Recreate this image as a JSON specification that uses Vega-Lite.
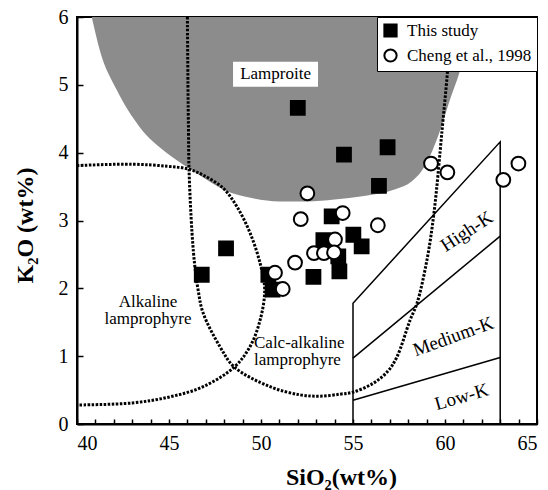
{
  "$schema": "https://vega.github.io/schema/vega-lite/v6.json",
  "width": 460,
  "height": 407,
  "autosize": "none",
  "padding": {"left": 77, "top": 17, "right": 11, "bottom": 66},
  "background": "white",
  "config": {
    "font": "Liberation Serif",
    "view": {"stroke": "black", "strokeWidth": 2},
    "axis": {
      "grid": false,
      "domainColor": "black",
      "domainWidth": 2,
      "tickColor": "black",
      "tickWidth": 1.5,
      "labelColor": "black",
      "labelFont": "Liberation Serif",
      "labelFontSize": 20,
      "titleFont": "Liberation Serif",
      "titleFontSize": 24,
      "titleFontWeight": "bold",
      "titleColor": "black"
    },
    "legend": {
      "fillColor": "white",
      "strokeColor": "black",
      "padding": 5,
      "rowPadding": 4,
      "labelFont": "Liberation Serif",
      "labelFontSize": 17,
      "labelColor": "black",
      "labelOffset": 8,
      "symbolSize": 150,
      "symbolStrokeWidth": 2
    }
  },
  "encoding": {
    "x": {
      "field": "SiO2",
      "type": "quantitative",
      "scale": {"domain": [40, 65], "nice": false, "zero": false},
      "axis": {
        "title": "SiO₂(wt%)",
        "values": [40, 41, 42, 43, 44, 45, 46, 47, 48, 49, 50, 51, 52, 53, 54, 55, 56, 57, 58, 59, 60, 61, 62, 63, 64, 65],
        "labelExpr": "datum.value % 5 === 0 ? datum.label : ''",
        "tickSize": -5,
        "labelPadding": 14,
        "titleX": 264,
        "titleY": 60,
        "titleBaseline": "alphabetic"
      }
    },
    "y": {
      "field": "K2O",
      "type": "quantitative",
      "scale": {"domain": [0, 6], "nice": false, "zero": false},
      "axis": {
        "title": "K₂O (wt%)",
        "values": [0, 1, 2, 3, 4, 5, 6],
        "tickSize": -6,
        "labelPadding": 15,
        "titleX": -52,
        "titleY": 208,
        "titleAngle": -90,
        "titleBaseline": "middle",
        "titleAlign": "center"
      }
    }
  },
  "layer": [
    {
      "description": "Lamproite field, shaded from its lower boundary up to the top of the plot",
      "data": {
        "values": [
          {"SiO2": 40.8, "K2O": 6.0},
          {"SiO2": 41.25, "K2O": 5.5},
          {"SiO2": 42.17, "K2O": 4.92},
          {"SiO2": 43.4, "K2O": 4.38},
          {"SiO2": 44.86, "K2O": 4.0},
          {"SiO2": 46.03, "K2O": 3.78},
          {"SiO2": 47.05, "K2O": 3.6},
          {"SiO2": 48.15, "K2O": 3.43},
          {"SiO2": 49.5, "K2O": 3.33},
          {"SiO2": 51.0, "K2O": 3.28},
          {"SiO2": 52.5, "K2O": 3.28},
          {"SiO2": 54.0, "K2O": 3.31},
          {"SiO2": 55.6, "K2O": 3.36},
          {"SiO2": 57.3, "K2O": 3.46},
          {"SiO2": 58.2, "K2O": 3.58},
          {"SiO2": 58.7, "K2O": 3.72},
          {"SiO2": 59.1, "K2O": 3.9},
          {"SiO2": 59.55, "K2O": 4.19},
          {"SiO2": 60.27, "K2O": 4.78},
          {"SiO2": 60.9, "K2O": 5.29},
          {"SiO2": 61.5, "K2O": 6.0}
        ]
      },
      "mark": {"type": "area", "fill": "#8c8c8c", "interpolate": "monotone"},
      "encoding": {"y2": {"datum": 6}}
    },
    {
      "description": "White box behind the Lamproite label",
      "data": {"values": [{"SiO2": 48.48, "SiO2_end": 53.1, "K2O": 4.97, "K2O_end": 5.34}]},
      "mark": {"type": "rect", "fill": "white"},
      "encoding": {
        "x2": {"field": "SiO2_end"},
        "y2": {"field": "K2O_end"}
      }
    },
    {
      "description": "Alkaline and calc-alkaline lamprophyre field boundaries",
      "data": {
        "values": [
          {"curve": "alkaline", "ord": 1, "SiO2": 40.0, "K2O": 3.81},
          {"curve": "alkaline", "ord": 2, "SiO2": 43.0, "K2O": 3.83},
          {"curve": "alkaline", "ord": 3, "SiO2": 44.9, "K2O": 3.8},
          {"curve": "alkaline", "ord": 4, "SiO2": 46.03, "K2O": 3.76},
          {"curve": "alkaline", "ord": 5, "SiO2": 46.85, "K2O": 3.67},
          {"curve": "alkaline", "ord": 6, "SiO2": 47.93, "K2O": 3.48},
          {"curve": "alkaline", "ord": 7, "SiO2": 48.7, "K2O": 3.2},
          {"curve": "alkaline", "ord": 8, "SiO2": 49.4, "K2O": 2.82},
          {"curve": "alkaline", "ord": 9, "SiO2": 49.95, "K2O": 2.37},
          {"curve": "alkaline", "ord": 10, "SiO2": 50.2, "K2O": 1.98},
          {"curve": "alkaline", "ord": 11, "SiO2": 49.95, "K2O": 1.53},
          {"curve": "alkaline", "ord": 12, "SiO2": 49.4, "K2O": 1.14},
          {"curve": "alkaline", "ord": 13, "SiO2": 48.55, "K2O": 0.84},
          {"curve": "alkaline", "ord": 14, "SiO2": 46.85, "K2O": 0.55},
          {"curve": "alkaline", "ord": 15, "SiO2": 45.05, "K2O": 0.4},
          {"curve": "alkaline", "ord": 16, "SiO2": 43.0, "K2O": 0.31},
          {"curve": "alkaline", "ord": 17, "SiO2": 40.0, "K2O": 0.28},
          {"curve": "calc", "ord": 1, "SiO2": 46.0, "K2O": 6.0},
          {"curve": "calc", "ord": 2, "SiO2": 46.03, "K2O": 5.0},
          {"curve": "calc", "ord": 3, "SiO2": 46.06, "K2O": 4.3},
          {"curve": "calc", "ord": 4, "SiO2": 46.09, "K2O": 3.74},
          {"curve": "calc", "ord": 5, "SiO2": 46.25, "K2O": 2.82},
          {"curve": "calc", "ord": 6, "SiO2": 46.41, "K2O": 2.31},
          {"curve": "calc", "ord": 7, "SiO2": 46.58, "K2O": 1.98},
          {"curve": "calc", "ord": 8, "SiO2": 46.85, "K2O": 1.64},
          {"curve": "calc", "ord": 9, "SiO2": 47.77, "K2O": 1.14},
          {"curve": "calc", "ord": 10, "SiO2": 48.55, "K2O": 0.84},
          {"curve": "calc", "ord": 11, "SiO2": 50.49, "K2O": 0.55},
          {"curve": "calc", "ord": 12, "SiO2": 52.12, "K2O": 0.43},
          {"curve": "calc", "ord": 13, "SiO2": 53.2, "K2O": 0.41},
          {"curve": "calc", "ord": 14, "SiO2": 54.3, "K2O": 0.44},
          {"curve": "calc", "ord": 15, "SiO2": 55.0, "K2O": 0.47},
          {"curve": "calc", "ord": 16, "SiO2": 56.1, "K2O": 0.6},
          {"curve": "calc", "ord": 17, "SiO2": 56.9, "K2O": 0.78},
          {"curve": "calc", "ord": 18, "SiO2": 57.39, "K2O": 0.99},
          {"curve": "calc", "ord": 19, "SiO2": 58.1, "K2O": 1.53},
          {"curve": "calc", "ord": 20, "SiO2": 58.48, "K2O": 1.78},
          {"curve": "calc", "ord": 21, "SiO2": 59.02, "K2O": 2.42},
          {"curve": "calc", "ord": 22, "SiO2": 59.4, "K2O": 3.11},
          {"curve": "calc", "ord": 23, "SiO2": 59.84, "K2O": 4.33},
          {"curve": "calc", "ord": 24, "SiO2": 60.16, "K2O": 5.29},
          {"curve": "calc", "ord": 25, "SiO2": 60.3, "K2O": 6.0}
        ]
      },
      "mark": {"type": "line", "color": "black", "strokeWidth": 3, "strokeDash": [2.5, 1.5], "interpolate": "catmull-rom"},
      "encoding": {
        "detail": {"field": "curve"},
        "order": {"field": "ord", "type": "quantitative"}
      }
    },
    {
      "description": "Low-K, medium-K and high-K series boundaries",
      "data": {
        "values": [
          {"seg": "outline", "ord": 1, "SiO2": 55, "K2O": 0},
          {"seg": "outline", "ord": 2, "SiO2": 55, "K2O": 1.78},
          {"seg": "outline", "ord": 3, "SiO2": 63, "K2O": 4.16},
          {"seg": "outline", "ord": 4, "SiO2": 63, "K2O": 0},
          {"seg": "high-medium", "ord": 1, "SiO2": 55, "K2O": 0.97},
          {"seg": "high-medium", "ord": 2, "SiO2": 63, "K2O": 2.77},
          {"seg": "medium-low", "ord": 1, "SiO2": 55, "K2O": 0.35},
          {"seg": "medium-low", "ord": 2, "SiO2": 63, "K2O": 0.98}
        ]
      },
      "mark": {"type": "line", "color": "black", "strokeWidth": 1.5},
      "encoding": {
        "detail": {"field": "seg"},
        "order": {"field": "ord", "type": "quantitative"}
      }
    },
    {
      "data": {"values": [{"SiO2": 50.79, "K2O": 5.16, "label": "Lamproite"}]},
      "mark": {"type": "text", "font": "Liberation Serif", "fontSize": 17, "color": "black", "align": "center", "baseline": "middle"},
      "encoding": {"text": {"field": "label"}}
    },
    {
      "data": {"values": [{"SiO2": 43.86, "K2O": 1.73, "label": "Alkaline\nlamprophyre"}]},
      "mark": {"type": "text", "font": "Liberation Serif", "fontSize": 17, "color": "black", "align": "center", "baseline": "alphabetic", "lineBreak": "\n", "lineHeight": 17},
      "encoding": {"text": {"field": "label"}}
    },
    {
      "data": {"values": [{"SiO2": 49.62, "K2O": 1.12, "label": "Calc-alkaline\nlamprophyre"}]},
      "mark": {"type": "text", "font": "Liberation Serif", "fontSize": 17, "color": "black", "align": "left", "baseline": "alphabetic", "lineBreak": "\n", "lineHeight": 17},
      "encoding": {"text": {"field": "label"}}
    },
    {
      "data": {"values": [{"SiO2": 61.18, "K2O": 2.84, "label": "High-K"}]},
      "mark": {"type": "text", "font": "Liberation Serif", "fontSize": 19, "color": "black", "align": "center", "baseline": "middle", "angle": 327},
      "encoding": {"text": {"field": "label"}}
    },
    {
      "data": {"values": [{"SiO2": 60.45, "K2O": 1.29, "label": "Medium-K"}]},
      "mark": {"type": "text", "font": "Liberation Serif", "fontSize": 19, "color": "black", "align": "center", "baseline": "middle", "angle": 340},
      "encoding": {"text": {"field": "label"}}
    },
    {
      "data": {"values": [{"SiO2": 60.9, "K2O": 0.4, "label": "Low-K"}]},
      "mark": {"type": "text", "font": "Liberation Serif", "fontSize": 19, "color": "black", "align": "center", "baseline": "middle", "angle": 344},
      "encoding": {"text": {"field": "label"}}
    },
    {
      "description": "Samples: this study (filled squares) and Cheng et al., 1998 (open circles)",
      "data": {
        "values": [
          {"source": "This study", "SiO2": 46.78, "K2O": 2.2},
          {"source": "This study", "SiO2": 48.1, "K2O": 2.59},
          {"source": "This study", "SiO2": 50.4, "K2O": 2.2},
          {"source": "This study", "SiO2": 50.63, "K2O": 1.98},
          {"source": "This study", "SiO2": 52.0, "K2O": 4.66},
          {"source": "This study", "SiO2": 52.85, "K2O": 2.17},
          {"source": "This study", "SiO2": 53.39, "K2O": 2.71},
          {"source": "This study", "SiO2": 53.84, "K2O": 3.06},
          {"source": "This study", "SiO2": 54.2, "K2O": 2.47},
          {"source": "This study", "SiO2": 54.26, "K2O": 2.25},
          {"source": "This study", "SiO2": 54.51, "K2O": 3.97},
          {"source": "This study", "SiO2": 55.02, "K2O": 2.79},
          {"source": "This study", "SiO2": 55.47, "K2O": 2.62},
          {"source": "This study", "SiO2": 56.41, "K2O": 3.51},
          {"source": "This study", "SiO2": 56.88, "K2O": 4.08},
          {"source": "Cheng et al., 1998", "SiO2": 52.52, "K2O": 3.4},
          {"source": "Cheng et al., 1998", "SiO2": 59.24, "K2O": 3.84},
          {"source": "Cheng et al., 1998", "SiO2": 60.13, "K2O": 3.71},
          {"source": "Cheng et al., 1998", "SiO2": 63.99, "K2O": 3.84},
          {"source": "Cheng et al., 1998", "SiO2": 63.17, "K2O": 3.6},
          {"source": "Cheng et al., 1998", "SiO2": 52.16, "K2O": 3.02},
          {"source": "Cheng et al., 1998", "SiO2": 54.44, "K2O": 3.11},
          {"source": "Cheng et al., 1998", "SiO2": 56.35, "K2O": 2.93},
          {"source": "Cheng et al., 1998", "SiO2": 54.02, "K2O": 2.72},
          {"source": "Cheng et al., 1998", "SiO2": 52.88, "K2O": 2.52},
          {"source": "Cheng et al., 1998", "SiO2": 53.42, "K2O": 2.52},
          {"source": "Cheng et al., 1998", "SiO2": 53.97, "K2O": 2.53},
          {"source": "Cheng et al., 1998", "SiO2": 51.85, "K2O": 2.38},
          {"source": "Cheng et al., 1998", "SiO2": 50.76, "K2O": 2.23},
          {"source": "Cheng et al., 1998", "SiO2": 51.18, "K2O": 1.99}
        ]
      },
      "mark": {"type": "point", "filled": true, "stroke": "black", "strokeWidth": 2, "size": 190, "opacity": 1},
      "encoding": {
        "shape": {
          "field": "source",
          "type": "nominal",
          "scale": {"domain": ["This study", "Cheng et al., 1998"], "range": ["square", "circle"]},
          "legend": {"title": null, "orient": "top-right", "offset": 0}
        },
        "color": {
          "field": "source",
          "type": "nominal",
          "scale": {"domain": ["This study", "Cheng et al., 1998"], "range": ["black", "white"]},
          "legend": {"title": null, "orient": "top-right", "offset": 0}
        }
      }
    }
  ]
}
